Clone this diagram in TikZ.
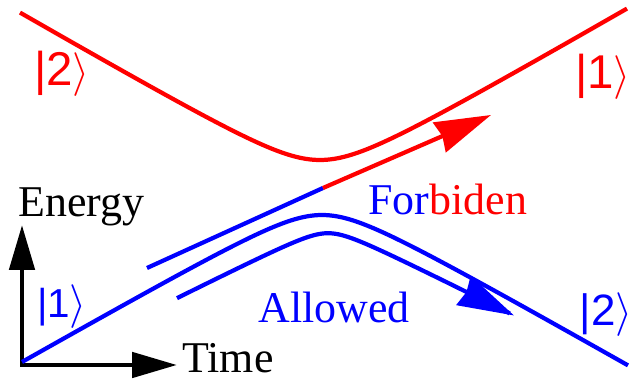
\documentclass[tikz,border=0pt]{standalone}
\usepackage{fontspec}
\setmainfont{Liberation Serif}
\newfontfamily\ketfont{Liberation Sans}
\usetikzlibrary{arrows.meta}
\newcommand{\stateket}[1]{{\ketfont|#1}$\rangle$}

\begin{document}
\begin{tikzpicture}[x=0.02cm, y=-0.02cm,
  curve/.style={line width=2.4pt},
  bigtip/.style={-{Stealth[length=1.12cm, width=0.64cm, inset=0.06cm]}},
  lbl/.style={inner sep=0pt, font=\fontsize{25}{30}\selectfont}]
\useasboundingbox (0,0) rectangle (633,381);

% Axes
\draw[line width=2.8pt, {Triangle[length=0.9cm, width=0.5cm]}-{Triangle[length=0.9cm, width=0.5cm]}] (22,225) -- (22,365) -- (177,365);
\node[lbl, anchor=base west] (energy) at (18,217) {Energy};
\node[lbl, anchor=base west] (time) at (182,373) {Time};

% Adiabatic levels
\draw[curve, red] plot[domain=20:627, samples=90, smooth] (\x, {189 - 10*sqrt((0.058*(\x-320))^2 + 2.9^2)});
\draw[curve, blue] plot[domain=22:628, samples=90, smooth] (\x, {189 + 10*sqrt((0.057*(\x-322))^2 + 2.6^2)});

% Forbidden path (diabatic crossing)
\coordinate (fstart) at (147,268);
\coordinate (fmid) at (323,188);
\coordinate (fend) at (491,115);
\draw[curve, blue] (fstart) -- (fmid);
\draw[curve, red, bigtip] (fmid) -- (fend);

% Allowed path (adiabatic following)
\draw[curve, blue, bigtip] plot[domain=177:514, samples=70, smooth] (\x, {221.8 + sqrt((0.5*(\x-328))^2 + 11.4^2)});

% Labels
\node[lbl, text=red, font=\fontsize{27}{32}\selectfont] (upl) at (62,74) {\stateket{2}};
\node[lbl, text=red, font=\fontsize{27}{32}\selectfont] (upr) at (603,77) {\stateket{1}};
\node[lbl, text=blue, font=\fontsize{23}{27}\selectfont] (lol) at (62,307) {\stateket{1}};
\node[lbl, text=blue] (lor) at (606,315) {\stateket{2}};
\node[lbl, anchor=base west] (forb) at (368,215) {\textcolor{blue}{For}\textcolor{red}{biden}};
\node[lbl, anchor=base west, text=blue] (allow) at (258,323) {Allowed};
\end{tikzpicture}
\end{document}
